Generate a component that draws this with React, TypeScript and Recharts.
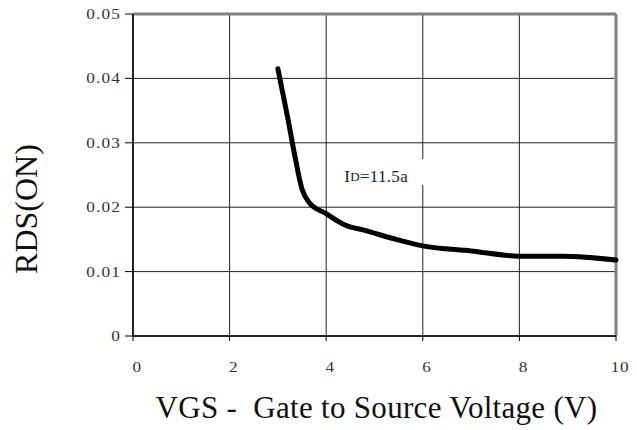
import { LineChart, Line, XAxis, YAxis, CartesianGrid, ReferenceLine, ReferenceDot, Label } from 'recharts'

// RDS(ON) vs VGS
const vgs = [3.0, 3.2, 3.35, 3.5, 3.65, 4.0, 4.4, 4.8, 5.4, 6.0, 7.0, 8.0, 8.9, 10]
const rds = [0.0415, 0.034, 0.028, 0.0228, 0.0207, 0.019, 0.0172, 0.0164, 0.0151, 0.014, 0.0132, 0.0124, 0.0124, 0.0118]
const xTicks = [0, 2, 4, 6, 8, 10]
const yTicks = [0, 0.01, 0.02, 0.03, 0.04, 0.05]

const data = vgs.map((v, i) => ({ vgs: v, rds: rds[i] }))

const SERIF = '"Liberation Serif", "Times New Roman", serif'

function XTick(props: any) {
  const { x, y, payload } = props
  return (
    <g transform={`translate(${x + 4},${y + 29}) scale(1.15,1)`}>
      <text textAnchor="middle" style={{ fontFamily: SERIF, fontSize: 15, fill: '#333', letterSpacing: 0.5 }}>
        {String(payload.value)}
      </text>
    </g>
  )
}

function YTick(props: any) {
  const { x, y, payload } = props
  return (
    <g transform={`translate(${x - 2},${y + 5}) scale(1.15,1)`}>
      <text textAnchor="end" style={{ fontFamily: SERIF, fontSize: 15, fill: '#333', letterSpacing: 1 }}>
        {String(payload.value)}
      </text>
    </g>
  )
}

function CurveNote(props: any) {
  const { viewBox } = props
  const cx = viewBox.x + (viewBox.width || 0) / 2
  const cy = viewBox.y + (viewBox.height || 0) / 2
  return (
    <g>
      <rect x={cx - 45} y={cy - 13} width={90} height={26} fill="#fff" />
      <text x={cx - 36} y={cy + 10} style={{ fontFamily: SERIF, fontSize: 17, fill: '#222', letterSpacing: 0.3 }}>
        <tspan>I</tspan>
        <tspan dy={-1} style={{ fontSize: 13 }}>D</tspan>
        <tspan dy={1}>=11.5a</tspan>
      </text>
    </g>
  )
}

function YTitle(props: any) {
  const { viewBox } = props
  const x = viewBox.x - 47 + 11
  const y = 209
  return (
    <text
      x={x}
      y={y}
      transform={`rotate(-90, ${x}, ${y})`}
      textAnchor="middle"
      style={{ fontFamily: SERIF, fontSize: 32, fill: '#111' }}
    >
      RDS(ON)
    </text>
  )
}

export default function App() {
  return (
    <div style={{ width: 637, height: 430, background: '#fff' }}>
      <style>{`body{margin:0}`}</style>
      <LineChart width={637} height={430} data={data} margin={{ top: 14, right: 21, bottom: 64, left: 73 }}>
        <CartesianGrid stroke="#222" strokeWidth={1} />
        <XAxis
          dataKey="vgs"
          type="number"
          domain={[0, 10]}
          ticks={xTicks}
          interval={0}
          height={30}
          axisLine={{ stroke: '#000', strokeWidth: 1.5 }}
          tickLine={{ stroke: '#000' }}
          tickSize={5}
          tick={<XTick />}
        >
          <Label
            content={(p: any) => (
              <text
                x={p.viewBox.x + p.viewBox.width / 2 + 2}
                y={418}
                textAnchor="middle"
                style={{ fontFamily: SERIF, fontSize: 31, fill: '#111', letterSpacing: 0.3, whiteSpace: 'pre' }}
              >
                {'VGS -  Gate to Source Voltage (V)'}
              </text>
            )}
          />
        </XAxis>
        <YAxis
          type="number"
          domain={[0, 0.05]}
          ticks={yTicks}
          interval={0}
          width={60}
          axisLine={{ stroke: '#000', strokeWidth: 1.5 }}
          tickLine={{ stroke: '#000' }}
          tickSize={8}
          tick={<YTick />}
        >
          <Label content={<YTitle />} />
        </YAxis>
        <ReferenceLine y={0.05} stroke="#808080" strokeWidth={3} />
        <ReferenceLine x={10} stroke="#808080" strokeWidth={3} />
        <ReferenceDot x={5.12} y={0.02546} r={0} fill="none" stroke="none" label={<CurveNote />} />
        <Line
          type="monotone"
          dataKey="rds"
          stroke="#000"
          strokeWidth={5}
          dot={false}
          strokeLinecap="round"
          isAnimationActive={false}
        />
      </LineChart>
    </div>
  )
}
